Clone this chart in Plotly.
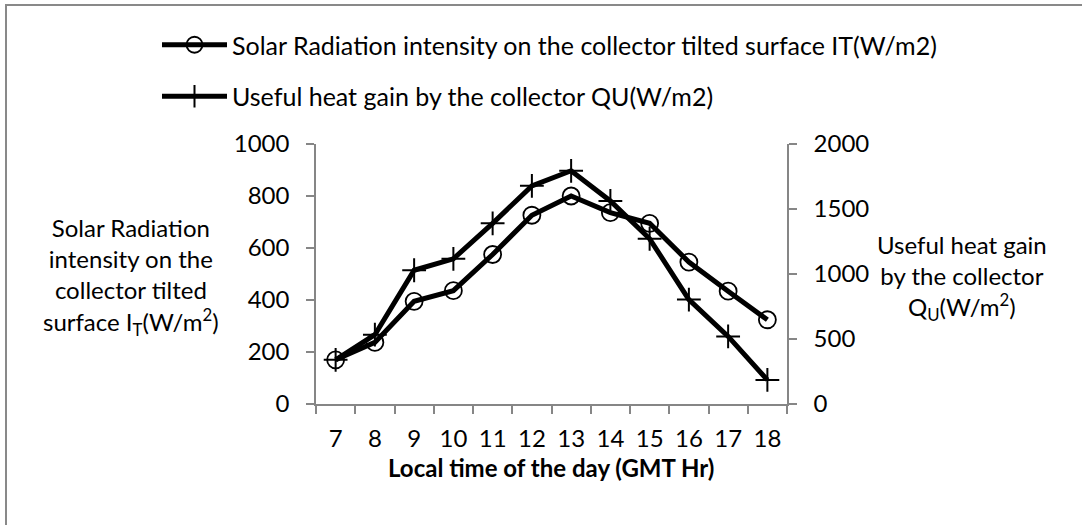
import plotly.graph_objects as go

hours = ["7", "8", "9", "10", "11", "12", "13", "14", "15", "16", "17", "18"]
solar_it = [170, 237, 395, 436, 575, 726, 800, 736, 695, 546, 434, 324]
useful_qu = [340, 533, 1029, 1117, 1390, 1678, 1794, 1562, 1271, 803, 520, 185]

W, H = 1082, 525
L, R, T, B = 316, 787, 144, 404


def fx(x):
    return x / W


def fy(y):
    return 1 - y / H


FONT = "Lato"
FS = 24
GRAY = "#868686"

fig = go.Figure()
fig.add_trace(go.Scatter(
    x=hours, y=solar_it, name="Solar Radiation intensity on the collector tilted surface IT(W/m2)",
    mode="lines+markers", line=dict(color="black", width=5),
    marker=dict(symbol="circle-open", size=17, color="black", line=dict(width=1.8, color="black")),
    legendgroup="a", yaxis="y"))
fig.add_trace(go.Scatter(
    x=hours, y=useful_qu, name="Useful heat gain by the collector QU(W/m2)",
    mode="lines+markers", line=dict(color="black", width=5),
    marker=dict(symbol="cross-thin-open", size=17, color="black", line=dict(width=2, color="black")),
    legendgroup="b", yaxis="y2"))

axis_common = dict(showgrid=False, zeroline=False, showline=True, linecolor=GRAY, linewidth=1.5,
                   ticks="outside", tickcolor=GRAY, tickwidth=1.5, ticklen=8, automargin=False,
                   ticklabelstandoff=12,
                   tickfont=dict(family=FONT, size=FS, color="black"))

fig.update_layout(
    width=W, height=H, autosize=False,
    margin=dict(l=0, r=0, t=0, b=0, pad=0),
    paper_bgcolor="white", plot_bgcolor="white",
    font=dict(family=FONT, size=FS, color="black"),
    xaxis=dict(type="category", range=[-0.5, 11.5], tickson="boundaries",
               domain=[fx(L), fx(R)], **axis_common),
    yaxis=dict(range=[0, 1000], dtick=200, domain=[fy(B), fy(T)], **axis_common),
    yaxis2=dict(range=[0, 2000], dtick=500, overlaying="y", side="right", **axis_common),
    legend=dict(x=fx(157), y=fy(22), xanchor="left", yanchor="top",
                font=dict(family=FONT, size=25, color="black"), itemwidth=65,
                tracegroupgap=16, bgcolor="rgba(0,0,0,0)"),
    showlegend=True,
)

fig.add_annotation(xref="paper", yref="paper", x=fx(131), y=fy(276), showarrow=False,
                   xanchor="center", yanchor="middle",
                   text="Solar Radiation<br>intensity on the<br>collector tilted<br>surface I<sub>T</sub>(W/m<sup>2</sup>)",
                   font=dict(family=FONT, size=FS, color="black"), align="center")
fig.add_annotation(xref="paper", yref="paper", x=fx(962), y=fy(277), showarrow=False,
                   xanchor="center", yanchor="middle",
                   text="Useful heat gain<br>by the collector<br>Q<sub>U</sub>(W/m<sup>2</sup>)",
                   font=dict(family=FONT, size=FS, color="black"), align="center")
fig.add_annotation(xref="paper", yref="paper", x=fx(551), y=fy(467), showarrow=False,
                   xanchor="center", yanchor="middle",
                   text="<b>Local time of the day (GMT Hr)</b>",
                   font=dict(family=FONT, size=FS, color="black"))

fig.add_shape(type="rect", xref="paper", yref="paper", x0=fx(6), x1=fx(1120), y0=fy(5), y1=fy(560),
              line=dict(color="#898989", width=2), fillcolor="rgba(0,0,0,0)", layer="below")

fig.write_html("out.html", config={"displayModeBar": False},
               post_script="document.body.style.margin='0px';")
